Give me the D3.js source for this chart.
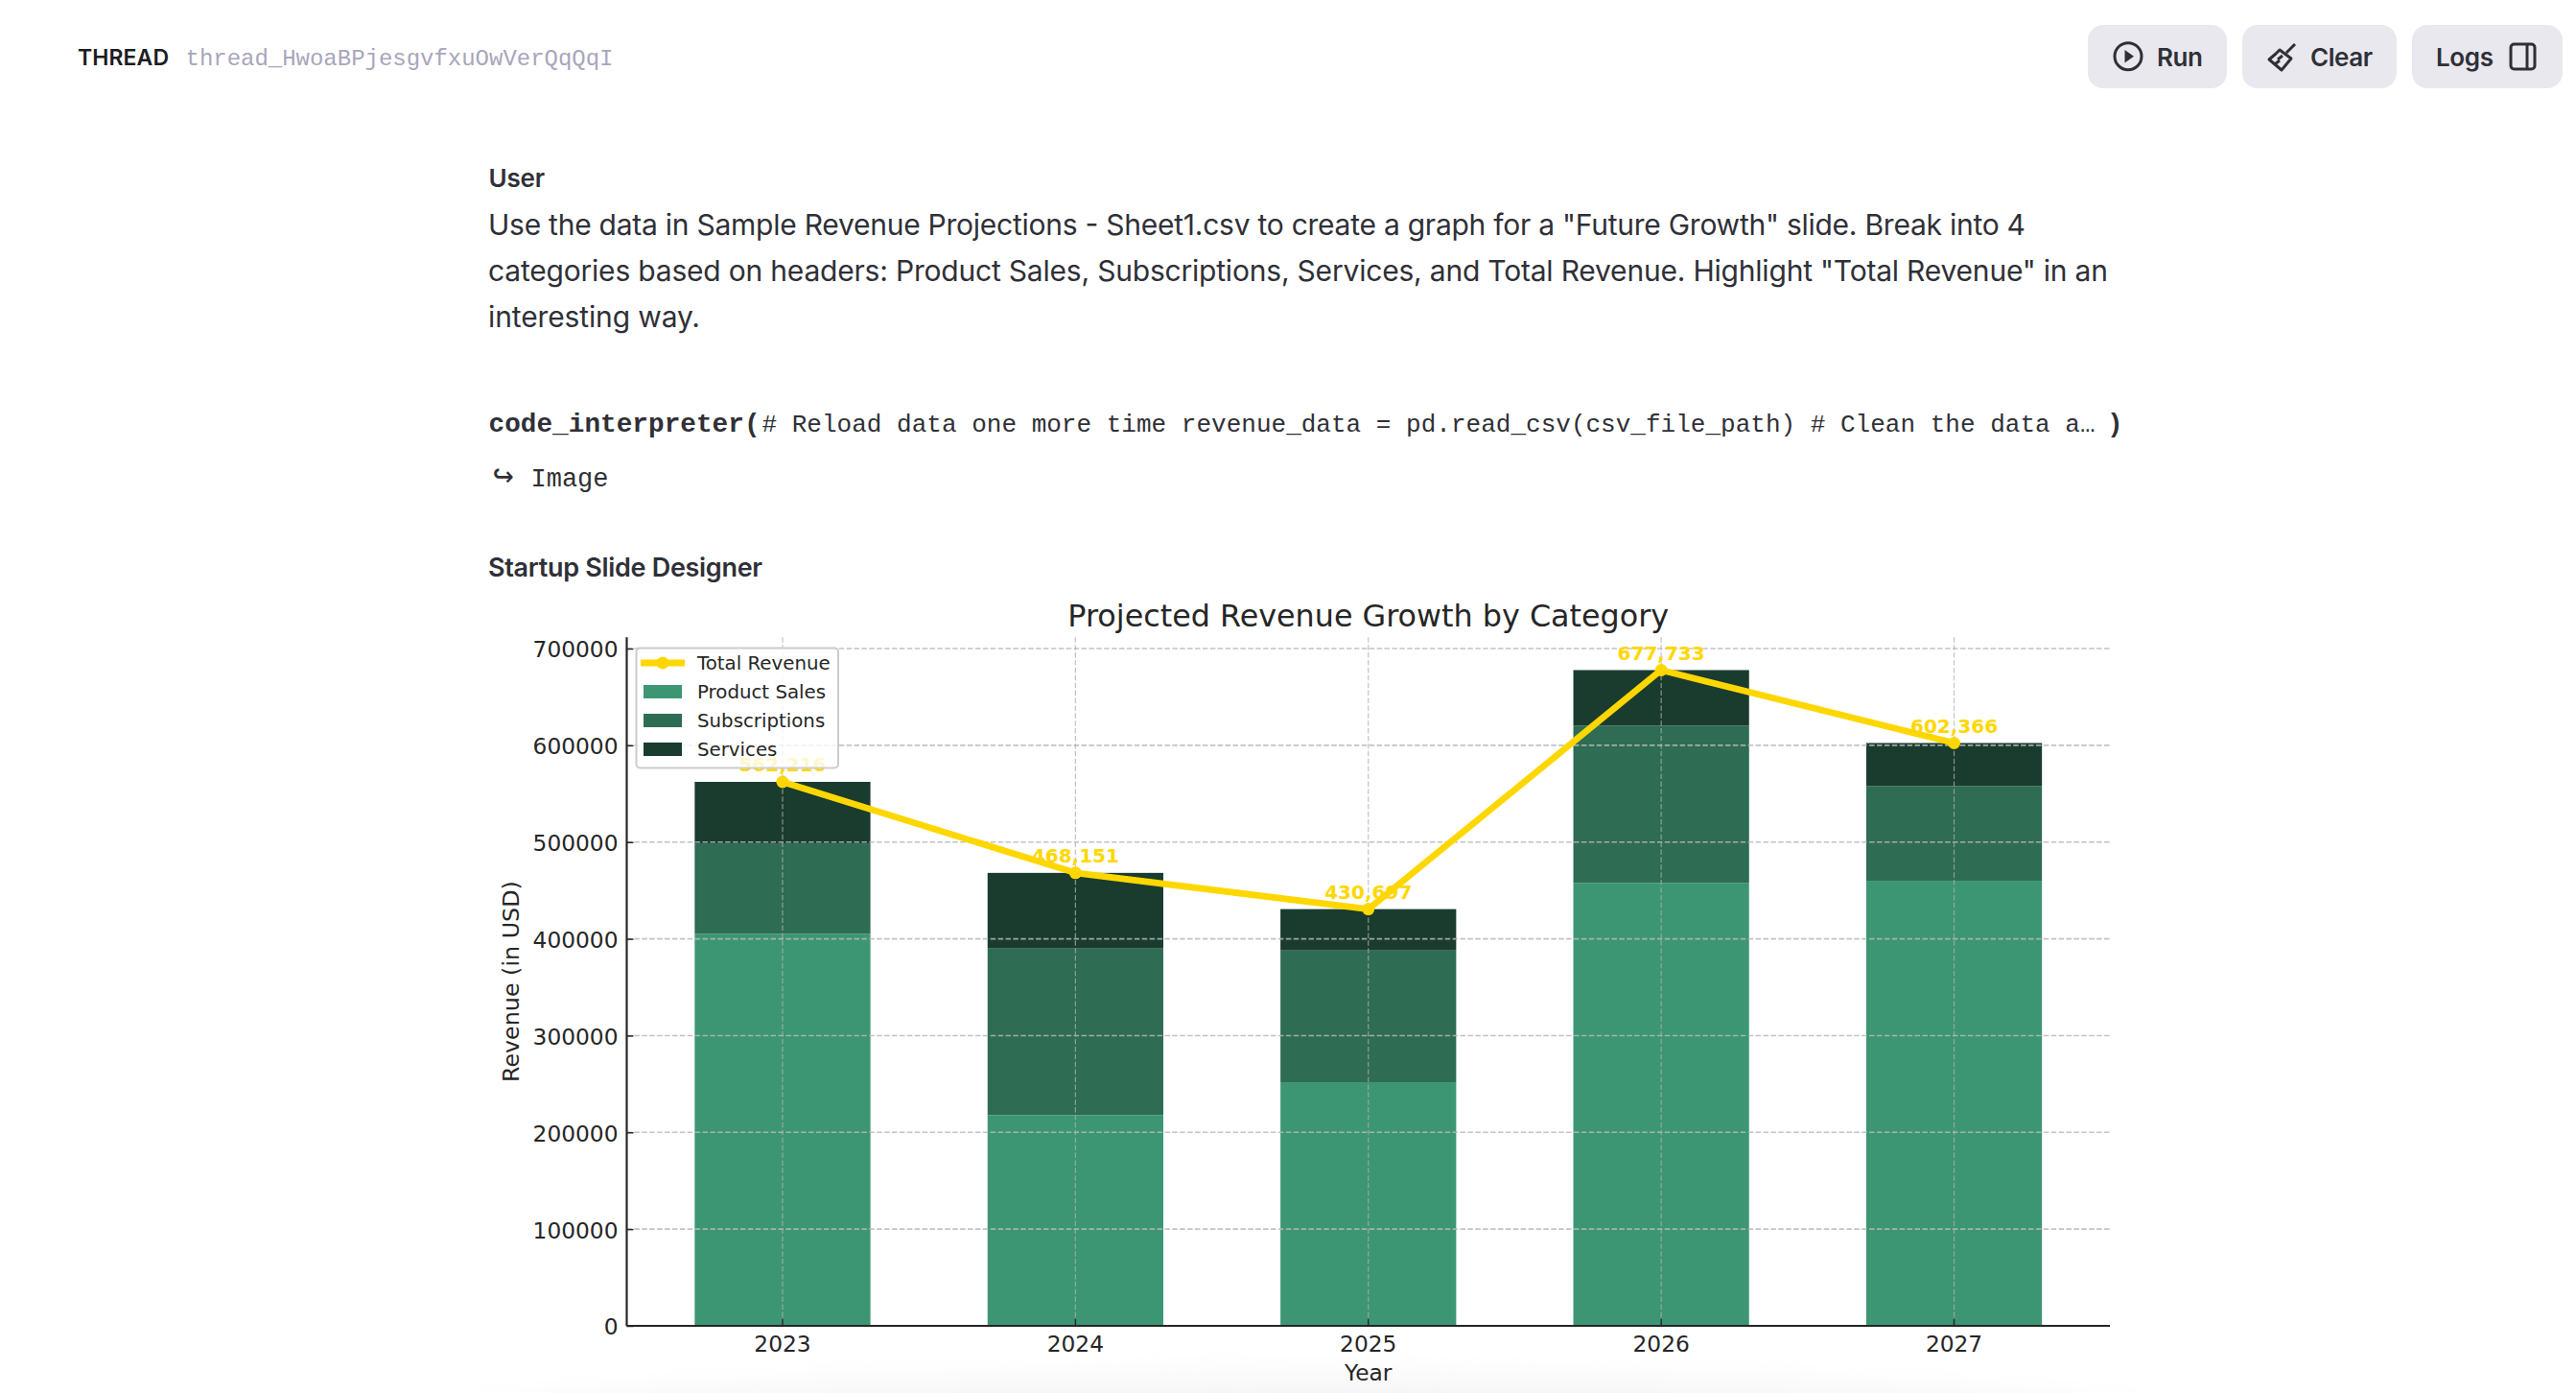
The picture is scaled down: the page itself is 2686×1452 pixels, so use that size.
<!DOCTYPE html>
<html>
<head>
<meta charset="utf-8">
<script src="https://cdnjs.cloudflare.com/ajax/libs/d3/7.8.5/d3.min.js"></script>
<style>
html,body{margin:0;padding:0;background:#fff;overflow:hidden}
svg{display:block}
.ui{font-family:Inter,"Noto Sans",sans-serif}
.mono{font-family:"Liberation Mono","DejaVu Sans Mono",monospace}
.mpl{font-family:"DejaVu Sans",sans-serif}
</style>
</head>
<body>
<svg id="page" width="2686" height="1452" viewBox="0 0 2686 1452"></svg>
<script>
// ---- chart data ----
const years = ["2023","2024","2025","2026","2027"];
const productSales  = [405200,217800,251800,457800,460000];
const subscriptions = [93500,172200,136200,162600,97900];
const services      = [63516,78151,42697,57333,44466];
const totalRevenue  = [562216,468151,430697,677733,602366];
const yTicks = [0,100000,200000,300000,400000,500000,600000,700000];
const seriesNames = ["Product Sales","Subscriptions","Services"];
const seriesColors = ["#3c9673","#2e6c54","#1a3c2e"];
const lineName = "Total Revenue";
const lineColor = "#ffd700";
const chartTitle = "Projected Revenue Growth by Category";
const xTitle = "Year";
const yTitle = "Revenue (in USD)";
const yMax = 711620;

// ---- page text ----
const threadLabel = "THREAD";
const threadId = "thread_HwoaBPjesgvfxuOwVerQqQqI";
const userLabel = "User";
const promptLines = [
  "Use the data in Sample Revenue Projections - Sheet1.csv to create a graph for a \"Future Growth\" slide. Break into 4",
  "categories based on headers: Product Sales, Subscriptions, Services, and Total Revenue. Highlight \"Total Revenue\" in an",
  "interesting way."
];
const codeHead = "code_interpreter(";
const codeBody = "# Reload data one more time revenue_data = pd.read_csv(csv_file_path) # Clean the data a\u2026";
const codeTail = ")";
const resultLabel = "Image";
const assistantLabel = "Startup Slide Designer";
const buttonLabels = ["Run","Clear","Logs"];

const svg = d3.select("#page");
const defs = svg.append("defs");
defs.append("filter").attr("id","fade").attr("x","-20%").attr("y","-100%").attr("width","140%").attr("height","300%")
  .append("feGaussianBlur").attr("stdDeviation",16);

// bottom fade of the page
svg.append("ellipse").attr("cx",1365).attr("cy",1492).attr("rx",940).attr("ry",56)
  .attr("fill","#f5f5f7").attr("filter","url(#fade)");

function txt(sel,s,x,y,o={}){
  const t = sel.append("text").text(s).attr("x",x).attr("y",y)
    .attr("class",o.cls||"ui").attr("font-size",o.size).attr("fill",o.fill||"#2f3037")
    .attr("font-weight",o.weight||400).attr("text-anchor",o.anchor||"start");
  if(o.len){t.attr("textLength",o.len).attr("lengthAdjust","spacing");}
  return t;
}

// ---- header ----
const page = svg.append("g");
txt(page,threadLabel,81,68,{size:23,weight:600,fill:"#1c1c22",len:95});
txt(page,threadId,193.5,67.5,{cls:"mono",size:24,fill:"#a8a6bb",len:446});

const btns = [[2177,145],[2338,161],[2515,157]];
page.selectAll("rect.btn").data(btns).join("rect").attr("class","btn")
  .attr("x",d=>d[0]).attr("y",26).attr("width",d=>d[1]).attr("height",66).attr("rx",16).attr("fill","#e9e8ee");
txt(page,buttonLabels[0],2249,69,{size:26,weight:600,len:48});
txt(page,buttonLabels[1],2409,69,{size:26,weight:600,len:65});
txt(page,buttonLabels[2],2540,69,{size:26,weight:600,len:60});
// run icon
page.append("circle").attr("cx",2219).attr("cy",58.7).attr("r",14).attr("fill","none").attr("stroke","#2f3037").attr("stroke-width",3);
page.append("path").attr("d","M2215.5 52 L2225 58.7 L2215.5 65.5 Z").attr("fill","#2f3037");
// clear icon
page.append("path").attr("d","M2393 46 L2384 55 M2377 52 L2389 61 L2379 73 L2366 62 L2373 56 Z M2375 62 L2380 58 M2372 67 L2377 63")
  .attr("fill","none").attr("stroke","#2f3037").attr("stroke-width",3).attr("stroke-linejoin","round");
// logs icon
page.append("rect").attr("x",2618).attr("y",46).attr("width",25).attr("height",26).attr("rx",3.5).attr("fill","none").attr("stroke","#2f3037").attr("stroke-width",3);
page.append("line").attr("x1",2635).attr("x2",2635).attr("y1",46).attr("y2",72).attr("stroke","#2f3037").attr("stroke-width",3);

// ---- conversation ----
txt(page,userLabel,509.5,194.5,{size:26,weight:600,len:58.5});
const promptLen=[1603,1689,221], promptY=[245,293,341];
promptLines.forEach((s,i)=>txt(page,s,509,promptY[i],{size:30,len:promptLen[i]}));
txt(page,codeHead,509.5,450,{cls:"mono",size:27.7,weight:700,len:283});
txt(page,codeBody,794.5,450,{cls:"mono",size:26,len:1390});
txt(page,codeTail,2197,450,{cls:"mono",size:27.7,weight:700});
txt(page,"\u21aa",514,507,{cls:"mono",size:36}).style("font-family","'DejaVu Sans Mono'");
txt(page,resultLabel,553.5,506.5,{cls:"mono",size:27,len:81});
txt(page,assistantLabel,509,600.5,{size:27,weight:600,len:286});

// ---- chart ----
const plot = {left:653.5,right:2200,top:664.3,bottom:1382};
const x = d3.scaleBand().domain(years).range([plot.left,plot.right]).paddingInner(0.4).paddingOuter(0.232);
const y = d3.scaleLinear().domain([0,yMax]).range([plot.bottom,plot.top]);
const g = svg.append("g").attr("class","mpl");
const cx = d=>x(d)+x.bandwidth()/2;

txt(g,chartTitle,(plot.left+plot.right)/2,653,{cls:"mpl",size:31.8,anchor:"middle",fill:"#262626"});

// stacked bars
const rows = years.map((yr,i)=>({year:yr,"Product Sales":productSales[i],"Subscriptions":subscriptions[i],"Services":services[i]}));
const stack = d3.stack().keys(seriesNames)(rows);
g.append("g").selectAll("g").data(stack).join("g").attr("fill",(d,i)=>seriesColors[i])
  .selectAll("rect").data(d=>d).join("rect")
  .attr("x",d=>x(d.data.year)).attr("width",x.bandwidth())
  .attr("y",d=>y(d[1])).attr("height",d=>y(d[0])-y(d[1]));

// grid
g.append("g").selectAll("line").data(yTicks.slice(1)).join("line")
  .attr("x1",plot.left).attr("x2",plot.right).attr("y1",d=>y(d)).attr("y2",d=>y(d))
  .attr("stroke","#b8b8b8").attr("stroke-opacity",.85).attr("stroke-width",1.6).attr("stroke-dasharray","5.5 2.4");
g.append("g").selectAll("line").data(years).join("line")
  .attr("x1",d=>cx(d)).attr("x2",d=>cx(d)).attr("y1",plot.top).attr("y2",plot.bottom)
  .attr("stroke","#b0b0b0").attr("stroke-opacity",.75).attr("stroke-width",1.2).attr("stroke-dasharray","5.5 2.4");

// axes
const xAxis = d3.axisBottom(x).tickSize(-7).tickPadding(10);
const yAxis = d3.axisLeft(y).tickValues(yTicks).tickFormat(d3.format("d")).tickSize(-7).tickPadding(9);
const styleAxis = a=>{
  a.attr("font-family","DejaVu Sans").attr("font-size",23.3);
  a.selectAll("text").attr("fill","#262626");
  a.selectAll("line").attr("stroke","#262626").attr("stroke-width",1.5);
  a.select(".domain").attr("stroke","#262626").attr("stroke-width",2.2);
};
g.append("g").attr("transform",`translate(0,${plot.bottom})`).call(xAxis).call(styleAxis).call(a=>a.select(".domain").attr("d",`M${plot.left},0H${plot.right}`));
g.append("g").attr("transform",`translate(${plot.left},0)`).call(yAxis).call(styleAxis)
  .call(a=>a.select(".domain").attr("d",`M0,${plot.top}V${plot.bottom}`))
  .call(a=>a.selectAll("text").attr("dy","0.38em"));
txt(g,xTitle,(plot.left+plot.right)/2,1439,{cls:"mpl",size:23.3,anchor:"middle",fill:"#262626"});
txt(g,yTitle,0,0,{cls:"mpl",size:23.8,anchor:"middle",fill:"#262626"})
  .attr("transform",`translate(541,${(plot.top+plot.bottom)/2}) rotate(-90)`);

// total revenue line
const line = d3.line().x((d,i)=>cx(years[i])).y(d=>y(d));
g.append("path").attr("d",line(totalRevenue)).attr("fill","none").attr("stroke",lineColor).attr("stroke-width",6.8).attr("stroke-linejoin","round");
g.append("g").selectAll("circle").data(totalRevenue).join("circle")
  .attr("cx",(d,i)=>cx(years[i])).attr("cy",d=>y(d)).attr("r",6.5).attr("fill",lineColor);
g.append("g").selectAll("text").data(totalRevenue).join("text")
  .attr("x",(d,i)=>cx(years[i])).attr("y",d=>y(d)-10.5).attr("text-anchor","middle")
  .attr("font-size",20).attr("font-weight",700).attr("fill",lineColor).text(d3.format(","));

// legend
const lg = g.append("g");
lg.append("rect").attr("x",663.5).attr("y",675.5).attr("width",210.5).attr("height",125).attr("rx",4)
  .attr("fill","#fff").attr("fill-opacity",.8).attr("stroke","#cccccc").attr("stroke-width",2);
lg.append("line").attr("x1",668).attr("x2",714).attr("y1",691).attr("y2",691).attr("stroke",lineColor).attr("stroke-width",6.8);
lg.append("circle").attr("cx",691).attr("cy",691).attr("r",6.5).attr("fill",lineColor);
txt(lg,lineName,727,698,{cls:"mpl",size:19.8,fill:"#262626"});
seriesNames.forEach((n,i)=>{
  lg.append("rect").attr("x",671).attr("y",714+30*i).attr("width",40).attr("height",14).attr("fill",seriesColors[i]);
  txt(lg,n,727,728+30*i,{cls:"mpl",size:19.8,fill:"#262626"});
});
</script>
</body>
</html>
